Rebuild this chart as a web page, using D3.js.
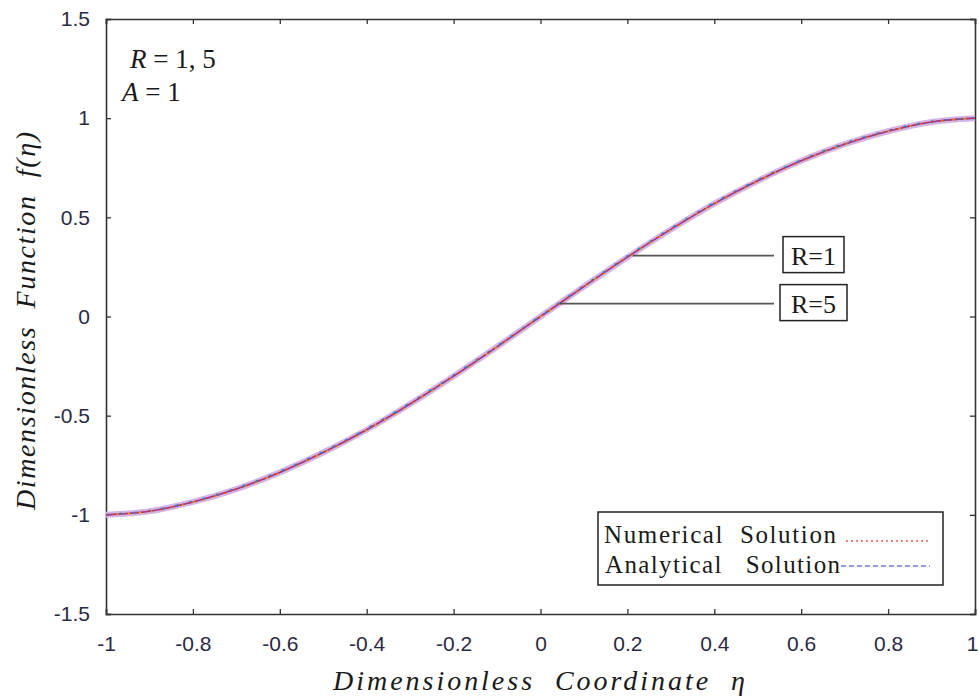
<!DOCTYPE html>
<html>
<head>
<meta charset="utf-8">
<script src="https://cdn.jsdelivr.net/npm/d3@7"></script>
<style>
  body { margin: 0; background: #fff; }
  text { white-space: pre; }
</style>
</head>
<body>
<div id="chart"></div>
<script>
const width = 979;
const height = 697;

// data
const eta = [-1, -0.9, -0.8, -0.7, -0.6, -0.5, -0.4, -0.3, -0.2, -0.1, 0,
             0.1, 0.2, 0.3, 0.4, 0.5, 0.6, 0.7, 0.8, 0.9, 1];
const numR1 = [-1, -0.982, -0.935, -0.87, -0.785, -0.685, -0.57, -0.44, -0.30, -0.152, 0,
               0.152, 0.30, 0.44, 0.57, 0.685, 0.785, 0.87, 0.935, 0.982, 1];
const anaR1 = [-1, -0.98, -0.933, -0.867, -0.782, -0.682, -0.567, -0.437, -0.297, -0.15, 0.002,
               0.154, 0.303, 0.443, 0.573, 0.688, 0.788, 0.872, 0.937, 0.983, 1];
const numR5 = [-1, -0.984, -0.938, -0.873, -0.789, -0.689, -0.574, -0.444, -0.304, -0.155, -0.002,
               0.149, 0.297, 0.436, 0.566, 0.681, 0.782, 0.867, 0.932, 0.98, 1];
const anaR5 = [-1, -0.982, -0.935, -0.87, -0.786, -0.686, -0.571, -0.441, -0.301, -0.153, 0,
               0.151, 0.299, 0.439, 0.569, 0.684, 0.785, 0.869, 0.934, 0.981, 1];

const xTicks = [-1, -0.8, -0.6, -0.4, -0.2, 0, 0.2, 0.4, 0.6, 0.8, 1];
const yTicks = [-1.5, -1, -0.5, 0, 0.5, 1, 1.5];

const margin = { top: 19, right: 4, bottom: 83, left: 106 };

const svg = d3.select("#chart")
  .append("svg")
  .attr("width", width)
  .attr("height", height);

const x = d3.scaleLinear()
  .domain([-1, 1])
  .range([margin.left, width - margin.right]);

const y = d3.scaleLinear()
  .domain([-1.5, 1.5])
  .range([height - margin.bottom, margin.top]);

const fmt = d => String(d);

// axes, ticks pointing inward
svg.append("g")
  .attr("transform", `translate(0,${height - margin.bottom})`)
  .call(d3.axisBottom(x).tickValues(xTicks).tickFormat(fmt).tickSize(-5).tickPadding(22))
  .call(g => g.selectAll("text").attr("font-size", 21))
  .call(g => g.selectAll(".tick:last-of-type text").attr("dx", -3));

svg.append("g")
  .attr("transform", `translate(${margin.left},0)`)
  .call(d3.axisLeft(y).tickValues(yTicks).tickFormat(fmt).tickSize(-5).tickPadding(16))
  .call(g => g.selectAll("text").attr("font-size", 21));

svg.append("g")
  .attr("transform", `translate(0,${margin.top})`)
  .call(d3.axisTop(x).tickValues(xTicks).tickFormat("").tickSize(-5));

svg.append("g")
  .attr("transform", `translate(${width - margin.right},0)`)
  .call(d3.axisRight(y).tickValues(yTicks).tickFormat("").tickSize(-5));

svg.selectAll(".domain")
  .attr("stroke", "#333")
  .attr("stroke-width", 1.6);

svg.selectAll(".tick line")
  .attr("stroke", "#333")
  .attr("stroke-width", 1.3);

svg.selectAll(".tick text")
  .attr("font-family", "Liberation Sans, Arial, sans-serif")
  .attr("fill", "#2b2a45");

// curves
const line = d3.line()
  .x((d, i) => x(eta[i]))
  .y(d => y(d))
  .curve(d3.curveCatmullRom);

svg.append("path")
  .datum(anaR5)
  .attr("d", line)
  .attr("fill", "none")
  .attr("stroke", "#d4b4e4")
  .attr("stroke-width", 6);

svg.append("path")
  .datum(anaR5)
  .attr("d", line)
  .attr("fill", "none")
  .attr("stroke", "#8a3a9e")
  .attr("stroke-width", 1.6);

svg.append("path")
  .datum(numR5)
  .attr("d", line)
  .attr("fill", "none")
  .attr("stroke", "#f0a020")
  .attr("stroke-width", 2)
  .attr("stroke-dasharray", "2,9");

svg.append("path")
  .datum(anaR1)
  .attr("d", line)
  .attr("fill", "none")
  .attr("stroke", "#2f7fd0")
  .attr("stroke-width", 2)
  .attr("stroke-dasharray", "3,11");

svg.append("path")
  .datum(numR1)
  .attr("d", line)
  .attr("fill", "none")
  .attr("stroke", "#d83a3a")
  .attr("stroke-width", 1.4)
  .attr("stroke-dasharray", "3,3");

// R labels with leader lines
const labels = [
  { text: "R=1", ex: 0.212, ey: 0.307, bx: 783, bw: 61 },
  { text: "R=5", ex: 0.044, ey: 0.065, bx: 780, bw: 67 }
];

labels.forEach(l => {
  svg.append("line")
    .attr("x1", x(l.ex)).attr("y1", y(l.ey))
    .attr("x2", 774).attr("y2", y(l.ey))
    .attr("stroke", "#555")
    .attr("stroke-width", 1.6);

  svg.append("rect")
    .attr("x", l.bx).attr("y", y(l.ey) - 19)
    .attr("width", l.bw).attr("height", 36)
    .attr("fill", "#fff")
    .attr("stroke", "#222")
    .attr("stroke-width", 1.5);

  svg.append("text")
    .attr("x", l.bx + l.bw / 2).attr("y", y(l.ey) + 9)
    .attr("text-anchor", "middle")
    .attr("font-family", "Liberation Serif, Times New Roman, serif")
    .attr("font-size", 26)
    .attr("fill", "#1a1a1a")
    .text(l.text);
});

// parameter annotation
const note = svg.append("g")
  .attr("font-family", "Liberation Serif, Times New Roman, serif")
  .attr("font-size", 27)
  .attr("fill", "#1a1a1a");

note.append("text")
  .attr("x", 130).attr("y", 68)
  .html('<tspan font-style="italic">R</tspan> = 1, 5');

note.append("text")
  .attr("x", 122).attr("y", 101)
  .html('<tspan font-style="italic">A</tspan> = 1');

// legend
const legend = svg.append("g");

legend.append("rect")
  .attr("x", 598).attr("y", 512)
  .attr("width", 345).attr("height", 73)
  .attr("fill", "#fff")
  .attr("stroke", "#222")
  .attr("stroke-width", 1.5);

legend.append("text")
  .attr("x", 604).attr("y", 543)
  .attr("font-family", "Liberation Serif, Times New Roman, serif")
  .attr("font-size", 25)
  .attr("fill", "#1a1a1a")
  .attr("textLength", 232)
  .text("Numerical  Solution");

legend.append("text")
  .attr("x", 605).attr("y", 573)
  .attr("font-family", "Liberation Serif, Times New Roman, serif")
  .attr("font-size", 25)
  .attr("fill", "#1a1a1a")
  .attr("textLength", 235)
  .text("Analytical   Solution");

legend.append("line")
  .attr("x1", 846).attr("x2", 930)
  .attr("y1", 541).attr("y2", 541)
  .attr("stroke", "#ee5a5a")
  .attr("stroke-width", 1.4)
  .attr("stroke-dasharray", "2,3");

legend.append("line")
  .attr("x1", 841).attr("x2", 930)
  .attr("y1", 566).attr("y2", 566)
  .attr("stroke", "#6a7ad8")
  .attr("stroke-width", 1.4)
  .attr("stroke-dasharray", "5,3");

// axis titles
svg.append("text")
  .attr("x", 333).attr("y", 690)
  .attr("font-family", "Liberation Serif, Times New Roman, serif")
  .attr("font-style", "italic")
  .attr("font-size", 28)
  .attr("fill", "#1a1a1a")
  .attr("textLength", 412)
  .text("Dimensionless  Coordinate  η");

svg.append("text")
  .attr("transform", "translate(35,510) rotate(-90)")
  .attr("font-family", "Liberation Serif, Times New Roman, serif")
  .attr("font-style", "italic")
  .attr("font-size", 28)
  .attr("fill", "#1a1a1a")
  .attr("textLength", 378)
  .text("Dimensionless  Function  f(η)");
</script>
</body>
</html>
